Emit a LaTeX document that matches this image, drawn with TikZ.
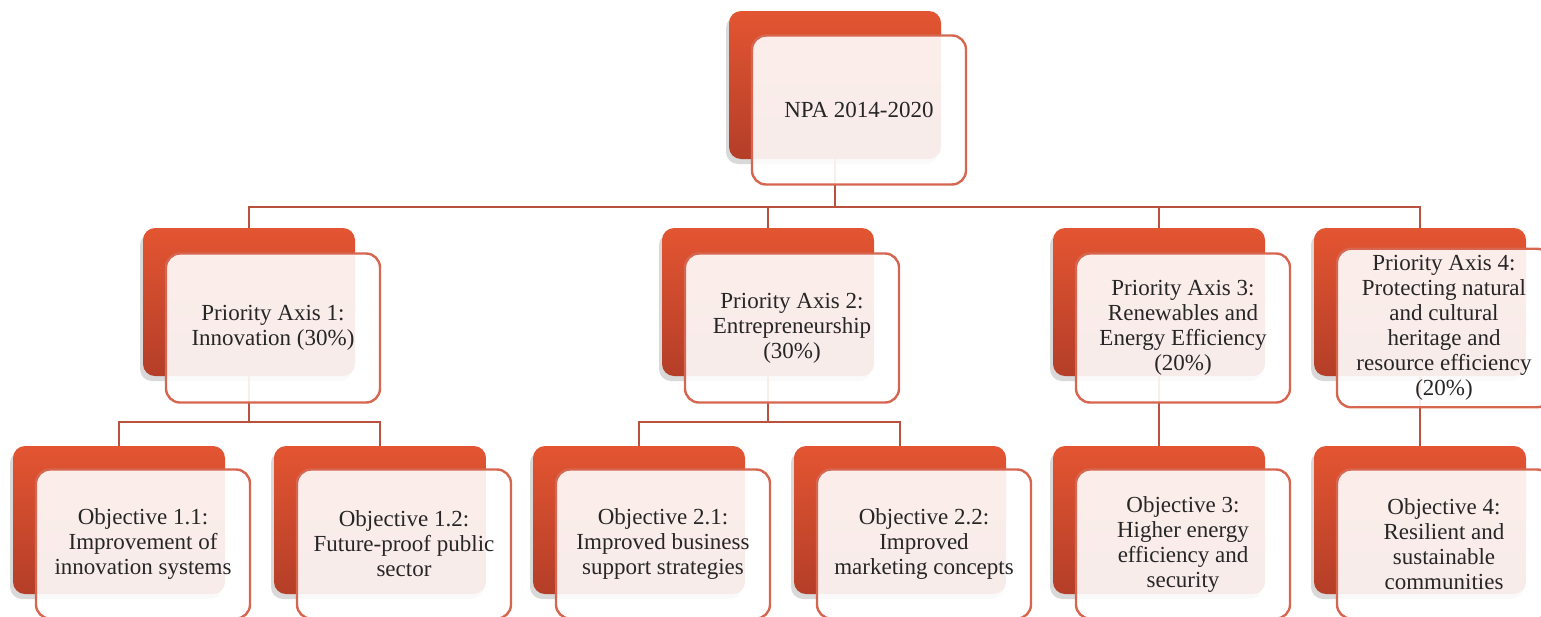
\documentclass[tikz,border=0pt]{standalone}
\usepackage{fontspec}
\setmainfont{Liberation Serif}
\definecolor{main}{RGB}{227,85,50}
\definecolor{second}{RGB}{180,62,40}
\definecolor{third}{RGB}{214,102,80}
\definecolor{fourth}{RGB}{184,82,62}
\usetikzlibrary{shadows}
\tikzset{
  % line
	cstline/.style   ={draw=fourth,line width=1.3pt}, % connector
  % node
	cstback/.style   ={rectangle,minimum width=106pt,minimum height=74pt,rounded corners=6pt,top color=main,bottom color=second,drop shadow={shadow xshift=-1.5pt,shadow yshift=-2.5pt,opacity=.3}},
	cstfront/.style  ={rectangle,minimum width=107pt,minimum height=74.5pt,rounded corners=7pt,draw=third,line width=1.2pt,fill=white,fill opacity=.9,text opacity=1,text=black!85,align=center,font=\fontsize{11.5}{12.5}\selectfont}
}

\begin{document}
\begin{tikzpicture}[x=.5pt,y=-.5pt]
			\clip (0,0) rectangle (1541,616);
			% back boxes
			\node[cstback] (npab) at (835,85) {};
			\node[cstback] (pa1b) at (249,302) {};
			\node[cstback] (pa2b) at (768,302) {};
			\node[cstback] (pa3b) at (1159,302) {};
			\node[cstback] (pa4b) at (1420,302) {};
			\node[cstback] (o11b) at (119,520) {};
			\node[cstback] (o12b) at (380,520) {};
			\node[cstback] (o21b) at (639,520) {};
			\node[cstback] (o22b) at (900,520) {};
			\node[cstback] (o3b) at (1159,520) {};
			\node[cstback] (o4b) at (1420,520) {};
			% connectors
			\coordinate (bus) at (835,207);
			\draw[cstline] (npab.south) -- (bus) -| (pa1b.north);
			\draw[cstline] (bus) -| (pa2b.north);
			\draw[cstline] (bus) -| (pa3b.north);
			\draw[cstline] (bus) -| (pa4b.north);
			\coordinate (bus1) at (249,422);
			\draw[cstline] (pa1b.south) -- (bus1) -| (o11b.north);
			\draw[cstline] (bus1) -| (o12b.north);
			\coordinate (bus2) at (768,422);
			\draw[cstline] (pa2b.south) -- (bus2) -| (o21b.north);
			\draw[cstline] (bus2) -| (o22b.north);
			\draw[cstline] (pa3b.south) -- (o3b.north);
			\draw[cstline] (pa4b.south) -- (o4b.north);
			% front boxes
			\node[cstfront] (npa) at (859,110) {NPA 2014-2020};
			\node[cstfront] (pa1) at (273,328) {Priority Axis 1:\\Innovation (30\%)};
			\node[cstfront] (pa2) at (792,328) {Priority Axis 2:\\Entrepreneurship\\(30\%)};
			\node[cstfront] (pa3) at (1183,328) {Priority Axis 3:\\Renewables and\\Energy Efficiency\\(20\%)};
			\node[cstfront] (pa4) at (1444,328) {Priority Axis 4:\\Protecting natural\\and cultural\\heritage and\\resource efficiency\\(20\%)};
			\node[cstfront] (o11) at (143,544) {Objective 1.1:\\Improvement of\\innovation systems};
			\node[cstfront] (o12) at (404,544) {Objective 1.2:\\Future-proof public\\sector};
			\node[cstfront] (o21) at (663,544) {Objective 2.1:\\Improved business\\support strategies};
			\node[cstfront] (o22) at (924,544) {Objective 2.2:\\Improved\\marketing concepts};
			\node[cstfront] (o3) at (1183,544) {Objective 3:\\Higher energy\\efficiency and\\security};
			\node[cstfront] (o4) at (1444,544) {Objective 4:\\Resilient and\\sustainable\\communities};
		\end{tikzpicture}
\end{document}
